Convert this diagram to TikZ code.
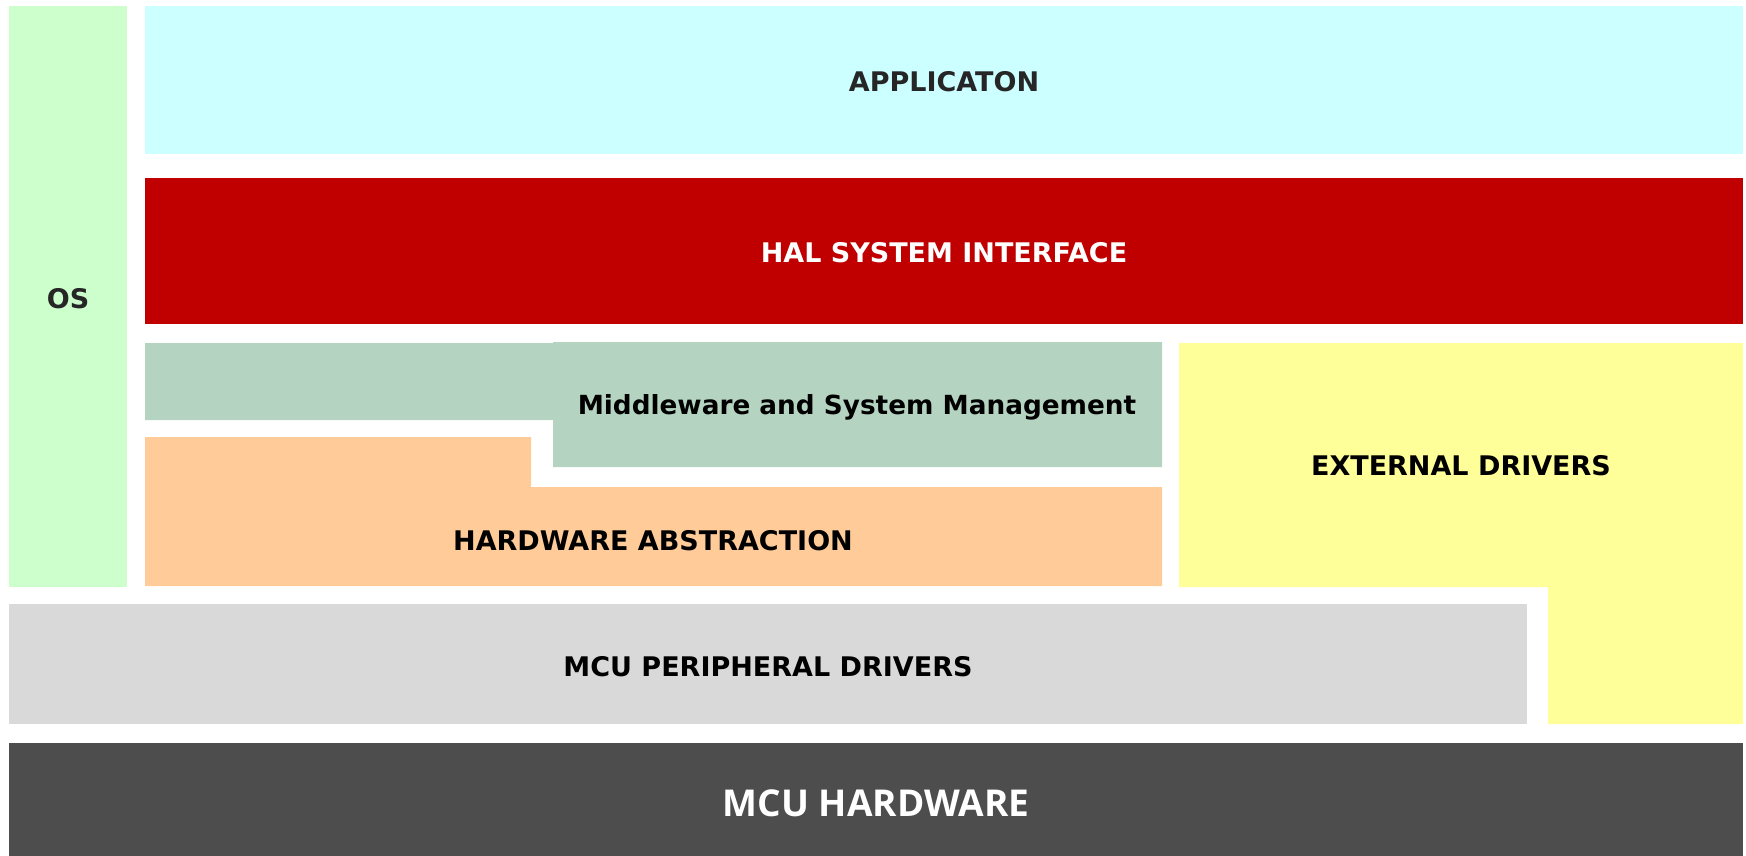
\documentclass[tikz,border=0pt]{standalone}
\usepackage{fontspec}
\setmainfont{DejaVu Sans}
\newfontfamily\hwfont{Open Sans}
\definecolor{appcol}{HTML}{CCFFFF}
\definecolor{halcol}{HTML}{C00000}
\definecolor{oscol}{HTML}{CCFFCC}
\definecolor{mwcol}{HTML}{B5D3C1}
\definecolor{habcol}{HTML}{FFCC99}
\definecolor{extcol}{HTML}{FFFF99}
\definecolor{periphcol}{HTML}{D9D9D9}
\definecolor{hwcol}{HTML}{4D4D4D}
\definecolor{darktext}{HTML}{262626}
\tikzset{
  layerlabel/.style={font=\fontsize{27}{31}\selectfont\bfseries, text=black, inner sep=0pt},
}
\begin{document}
\begin{tikzpicture}[x=1pt,y=-1pt]
\useasboundingbox (0,0) rectangle (1746,856);
% layer blocks
\fill[oscol] (9,6) rectangle (127,587);
\fill[appcol] (145,6) rectangle (1743,154);
\fill[halcol] (145,178) rectangle (1743,324);
\fill[mwcol] (145,343) -- (553,343) -- (553,342) -- (1162,342) -- (1162,467)
  -- (553,467) -- (553,420) -- (145,420) -- cycle;
\fill[habcol] (145,437) -- (531,437) -- (531,487) -- (1162,487) -- (1162,586)
  -- (145,586) -- cycle;
\fill[extcol] (1179,343) -- (1743,343) -- (1743,724) -- (1548,724) -- (1548,587)
  -- (1179,587) -- cycle;
\fill[periphcol] (9,604) rectangle (1527,724);
\fill[hwcol] (9,743) rectangle (1743,856);
% labels
\node[layerlabel, text=darktext] (os) at (68,299) {OS};
\node[layerlabel, text=darktext] (app) at (944,82) {APPLICATON};
\node[layerlabel, text=white] (hal) at (944,253) {HAL SYSTEM INTERFACE};
\node[layerlabel, font=\fontsize{26.3}{30}\selectfont\bfseries] (mw) at (857,407) {Middleware and System Management};
\node[layerlabel] (hab) at (653,541) {HARDWARE ABSTRACTION};
\node[layerlabel] (ext) at (1461,466) {EXTERNAL DRIVERS};
\node[layerlabel] (periph) at (768,667) {MCU PERIPHERAL DRIVERS};
\node[font=\hwfont\fontsize{37}{42}\selectfont\bfseries, text=white, inner sep=0pt] (hw) at (876,803) {MCU HARDWARE};
\end{tikzpicture}
\end{document}
